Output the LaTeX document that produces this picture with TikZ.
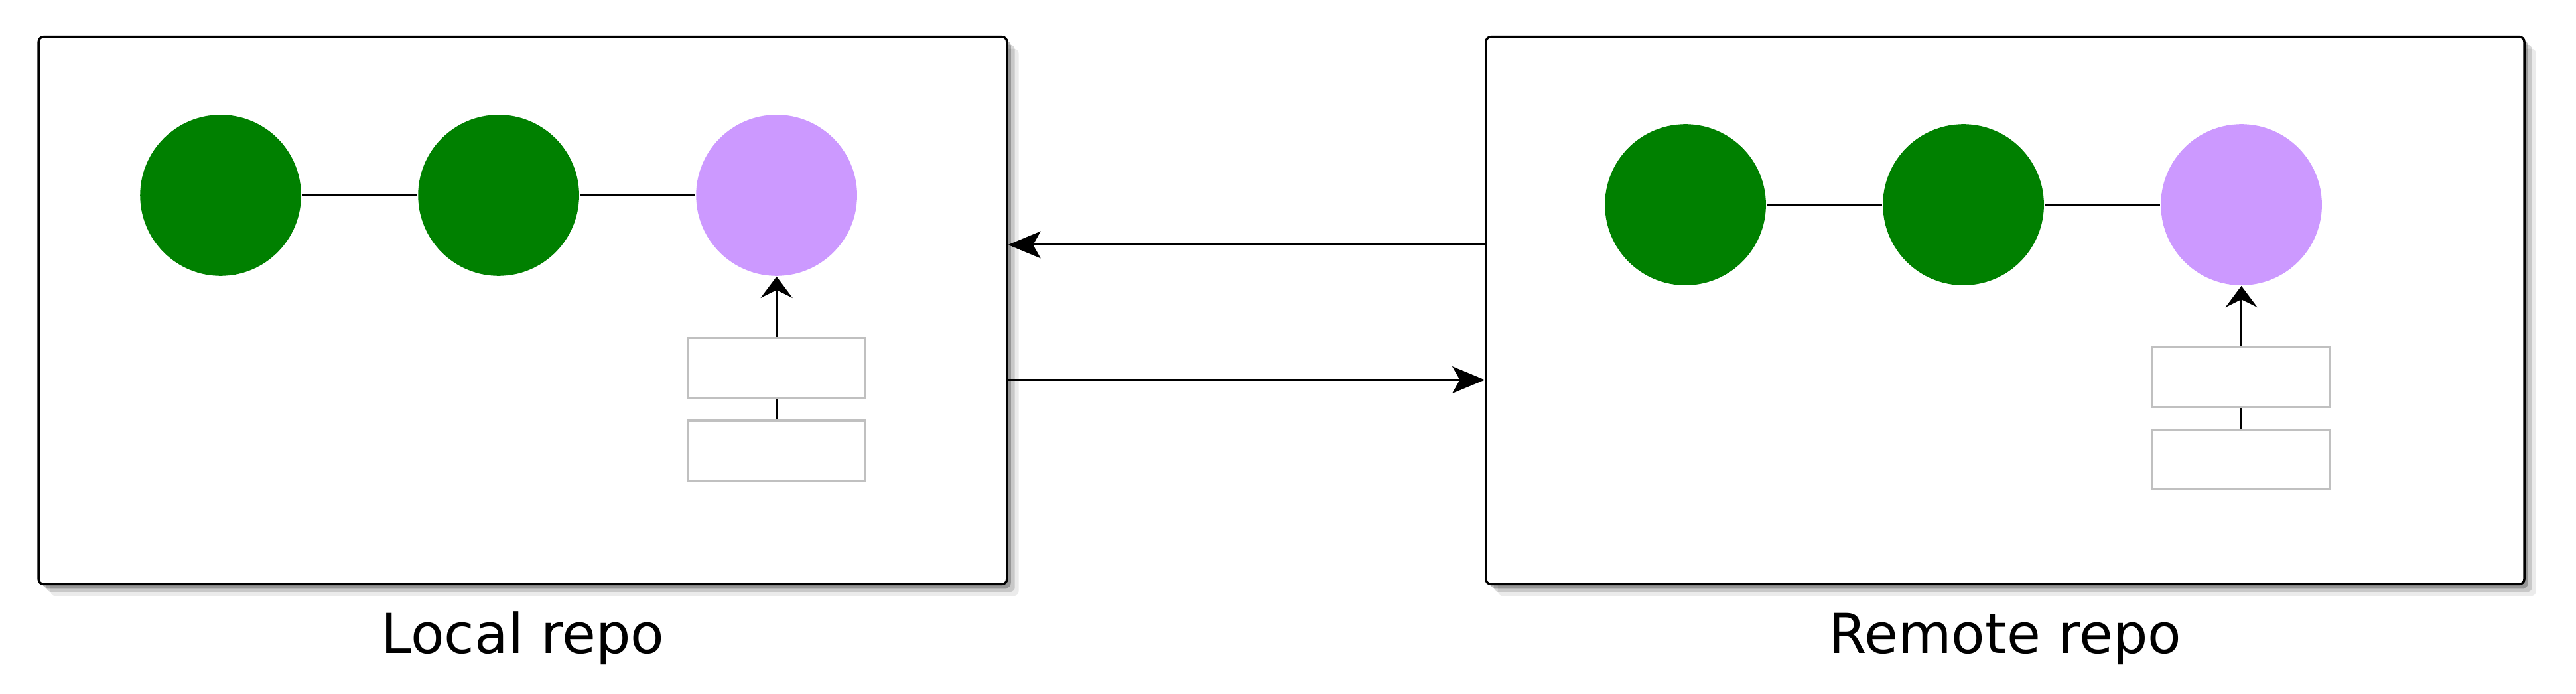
\documentclass[tikz,border=0pt]{standalone}
\usepackage{fontspec}
\setmainfont{DejaVu Sans}
\usetikzlibrary{positioning,shadows,arrows.meta}
\definecolor{commitgreen}{HTML}{008000}
\definecolor{headpurple}{HTML}{CC99FF}
\definecolor{refgray}{HTML}{C0C0C0}
\tikzset{repo/.style={draw,line width=0.7pt,rounded corners=1.5pt,fill=white,minimum height=166.5pt,
    drop shadow={shadow xshift=1.2pt,shadow yshift=-1.2pt,fill=black,opacity=.25},
    drop shadow={shadow xshift=2.4pt,shadow yshift=-2.4pt,fill=black,opacity=.15},
    drop shadow={shadow xshift=3.6pt,shadow yshift=-3.6pt,fill=black,opacity=.08}},
    commit/.style={circle,fill=commitgreen,minimum size=49pt,inner sep=0pt},
    head/.style={commit,fill=headpurple},
    ref/.style={draw=refgray,line width=0.65pt,fill=white,minimum width=54pt,minimum height=18.2pt,inner sep=0pt},
    sync/.style={-{Stealth[length=9.9pt,width=8.2pt,inset=2.3pt]},line width=0.6pt},
    point/.style={-{Stealth[length=6.5pt,width=9.7pt,inset=2.4pt]},line width=0.6pt},
    title/.style={font=\fontsize{16.7}{20}\selectfont,anchor=base},
    node distance=35.2pt}
\begin{document}
\begin{tikzpicture}[x=0.5pt,y=-0.5pt]
\useasboundingbox (0,0) rectangle (1568,422);
% local repo
\node[repo,minimum width=294.7pt] (local) at (318.2,189) {};
\node[commit] (l1) at (134.3,118.9) {};
\node[commit,right=of l1] (l2) {};
\node[head,right=of l2] (l3) {};
\node[ref,below=18.4pt of l3] (lhead) {};
\node[ref,below=6.3pt of lhead] (lmain) {};
\node[title] (ltitle) at (318.2,397.4) {Local repo};
% remote repo
\node[repo,minimum width=316pt] (remote) at (1220.5,189) {};
\node[commit] (r1) at (1025.9,124.6) {};
\node[commit,right=of r1] (r2) {};
\node[head,right=of r2] (r3) {};
\node[ref,below=18.3pt of r3] (rhead) {};
\node[ref,below=6.3pt of rhead] (rmain) {};
\node[title] (rtitle) at (1220.5,397.4) {Remote repo};

\draw[line width=0.6pt] (l1) -- (l2) -- (l3);
\draw[point] (lhead) -- (l3);
\draw[line width=0.6pt] (lmain) -- (lhead);
\draw[line width=0.6pt] (r1) -- (r2) -- (r3);
\draw[point] (rhead) -- (r3);
\draw[line width=0.6pt] (rmain) -- (rhead);

\draw[sync] ([yshift=20pt]remote.west) -- ([yshift=20pt]local.east);
\draw[sync] ([yshift=-21.1pt]local.east) -- ([yshift=-21.1pt]remote.west);
\end{tikzpicture}
\end{document}
